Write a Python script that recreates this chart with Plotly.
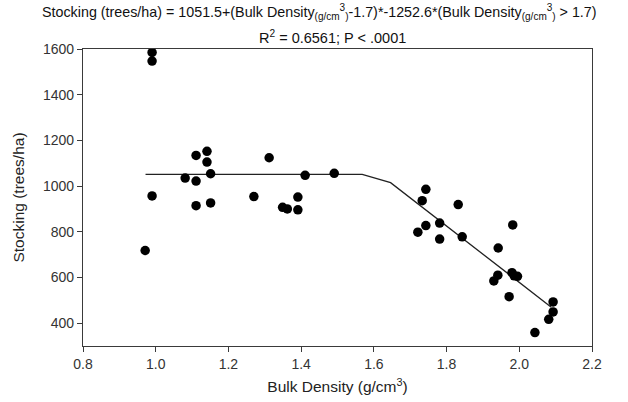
import plotly.graph_objects as go

# Observed data (bulk density g/cm3, stocking trees/ha)
bulk_density = [0.990, 0.990, 1.111, 1.141, 1.141, 1.151, 1.081, 1.111, 1.312, 1.411,
                1.491, 0.990, 0.971, 1.111, 1.151, 1.270, 1.349, 1.362, 1.391, 1.391,
                1.743, 1.733, 1.832, 1.781, 1.743, 1.721, 1.781, 1.843, 1.982, 1.942,
                1.941, 1.930, 1.980, 1.986, 1.995, 1.972, 2.093, 2.093, 2.081, 2.043]
stocking = [1585, 1547, 1134, 1152, 1105, 1054, 1035, 1022, 1124, 1047,
            1056, 957, 718, 914, 926, 954, 907, 900, 952, 896,
            986, 936, 919, 838, 827, 798, 768, 778, 830, 729,
            610, 585, 621, 607, 605, 516, 493, 449, 417, 359]

# Fitted piecewise line as drawn
fit_x = [0.972, 1.568, 1.646, 2.088]
fit_y = [1051.5, 1051.5, 1015, 470]

x_ticks = [0.8, 1.0, 1.2, 1.4, 1.6, 1.8, 2.0, 2.2]
y_ticks = [400, 600, 800, 1000, 1200, 1400, 1600]

FONT = "Liberation Sans, Arial, sans-serif"
AX = "#3a3a3a"

fig = go.Figure()
fig.add_trace(go.Scatter(x=fit_x, y=fit_y, mode="lines",
                         line=dict(color="#222222", width=1.3), showlegend=False,
                         hoverinfo="skip"))
fig.add_trace(go.Scatter(x=bulk_density, y=stocking, mode="markers",
                         marker=dict(color="black", size=9.5, symbol="circle"),
                         showlegend=False))

fig.update_layout(
    width=628, height=402,
    margin=dict(l=83, r=36, t=49, b=56),
    paper_bgcolor="white", plot_bgcolor="white",
    font=dict(family=FONT, color="#222222"),
)

fig.update_xaxes(
    range=[0.8, 2.2], tickvals=x_ticks, ticktext=[f"{v:.1f}" for v in x_ticks],
    showgrid=False, zeroline=False, automargin=False,
    showline=True, linecolor=AX, linewidth=1.3, mirror=True,
    ticks="outside", ticklen=5, tickcolor=AX, tickwidth=1.3,
    tickfont=dict(size=14, family=FONT, color="#333333"),
    title=dict(text="Bulk Density (g/cm<sup>3</sup>)", font=dict(size=15.5, family=FONT, color="#222222"),
               standoff=10),
)
fig.update_yaxes(
    range=[300, 1600], tickvals=y_ticks, ticktext=[str(v) for v in y_ticks],
    showgrid=False, zeroline=False, automargin=False,
    showline=True, linecolor=AX, linewidth=1.3, mirror=True,
    ticks="outside", ticklen=5, tickcolor=AX, tickwidth=1.3,
    tickfont=dict(size=14, family=FONT, color="#333333"),
    title=dict(text="Stocking (trees/ha)", font=dict(size=15.5, family=FONT, color="#222222"),
               standoff=14),
)

sub = "<sub>(g/cm</sub><sup>3</sup><sub>)</sub>"
line1 = ("Stocking (trees/ha) = 1051.5+(Bulk Density" + sub + "-1.7)*-1252.6*"
         "(Bulk Density" + sub + " > 1.7)")
line2 = "R<sup>2</sup> = 0.6561; P < .0001"
fig.add_annotation(text=line1, xref="paper", yref="paper",
                   x=(319 - 83) / 509, y=1 + (49 - 12) / 297,
                   showarrow=False, xanchor="center", yanchor="middle",
                   font=dict(size=14.3, family=FONT, color="#111111"))
fig.add_annotation(text=line2, xref="paper", yref="paper",
                   x=(332 - 83) / 509, y=1 + (49 - 37) / 297,
                   showarrow=False, xanchor="center", yanchor="middle",
                   font=dict(size=14.5, family=FONT, color="#111111"))

fig.write_html("out.html")
